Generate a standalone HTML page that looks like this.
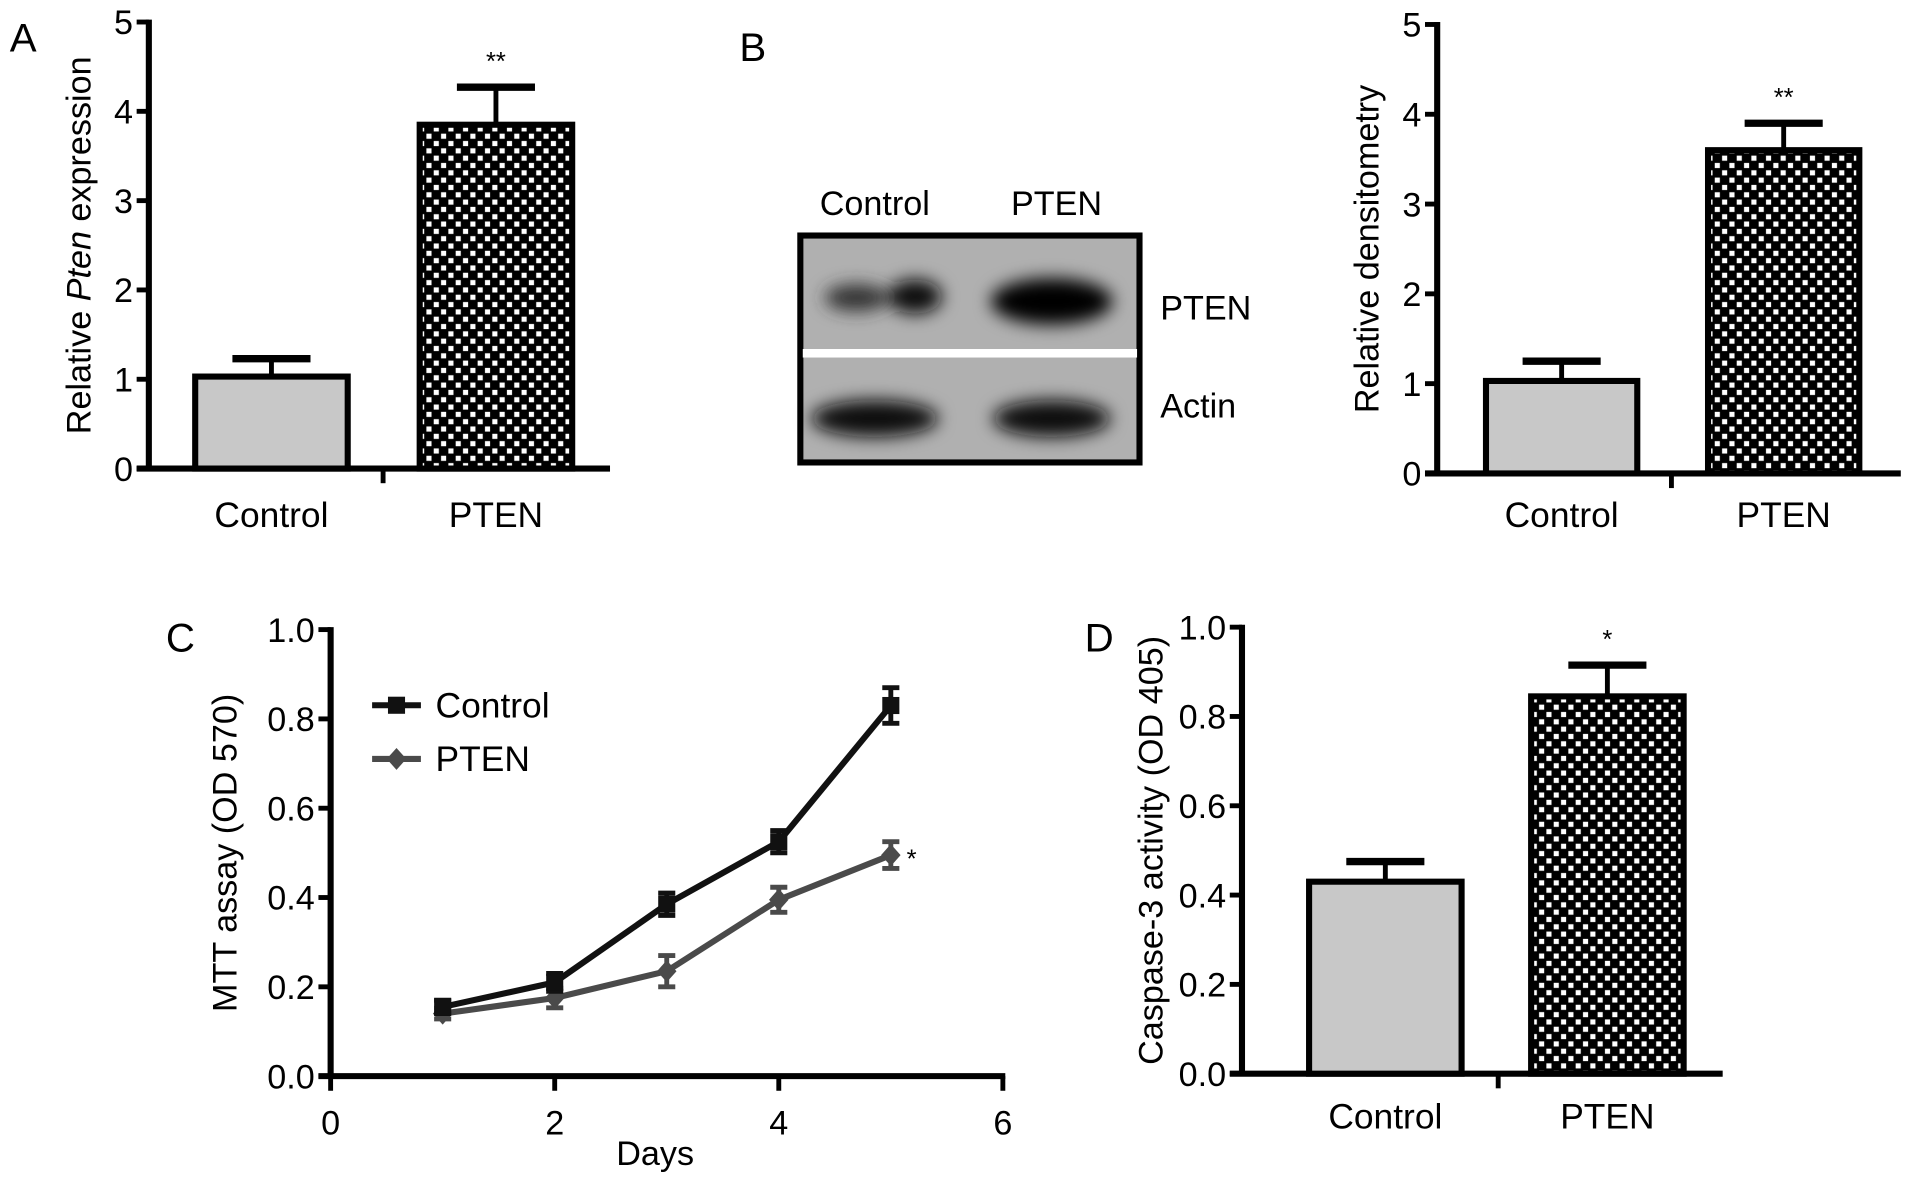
<!DOCTYPE html>
<html><head><meta charset="utf-8"><style>
html,body{margin:0;padding:0;background:#fff;}
svg{display:block;font-family:"Liberation Sans",Arial,sans-serif;}
</style></head><body>
<svg id="fig" width="1913" height="1186" viewBox="0 0 1568 972" xmlns="http://www.w3.org/2000/svg">
<defs>
<pattern id="chk" width="12" height="12" patternUnits="userSpaceOnUse">
<rect width="12" height="12" fill="#000"/>
<rect x="1.5" y="1.5" width="4.2" height="4.2" fill="#fff"/>
<rect x="7.5" y="7.5" width="4.2" height="4.2" fill="#fff"/>
</pattern>
<filter id="blur" x="-30%" y="-60%" width="160%" height="220%"><feGaussianBlur stdDeviation="7"/></filter>
</defs>
<g id="blot">
<rect x="656" y="193" width="278" height="186" fill="#b0b0b0" stroke="#000" stroke-width="5"/>
<g filter="url(#blur)">
<ellipse cx="702" cy="244" rx="26" ry="11" fill="#333"/>
<ellipse cx="750" cy="243" rx="22" ry="14" fill="#111"/>
<ellipse cx="862" cy="247" rx="50" ry="19" fill="#050505"/>
<ellipse cx="717" cy="343" rx="52" ry="15" fill="#111"/>
<ellipse cx="862" cy="343" rx="48" ry="15" fill="#111"/>
</g>
<rect x="658" y="286" width="274" height="7" fill="#fff"/>
<text x="717" y="176" font-size="28" text-anchor="middle">Control</text>
<text x="866" y="176" font-size="28" text-anchor="middle">PTEN</text>
<text x="951" y="262" font-size="28">PTEN</text>
<text x="951" y="342" font-size="28">Actin</text>
</g>
<text x="8" y="42" font-size="33">A</text>
<text x="606" y="50" font-size="33">B</text>
<text x="136" y="534" font-size="33">C</text>
<text x="889" y="534" font-size="33">D</text>
</svg>
<script>
const NS="http://www.w3.org/2000/svg";
const svg=document.getElementById('fig');
function mk(tag,attrs,parent){const e=document.createElementNS(NS,tag);for(const k in attrs)e.setAttribute(k,attrs[k]);(parent||svg).appendChild(e);return e;}

// Panel A data
const aCategories=["Control","PTEN"];
const aValues=[1.03,3.85];
const aErrors=[0.20,0.42];
const aTicks=["0","1","2","3","4","5"];
const aSig=["","**"];
// Panel B data
const bCategories=["Control","PTEN"];
const bValues=[1.03,3.60];
const bErrors=[0.22,0.30];
const bTicks=["0","1","2","3","4","5"];
const bSig=["","**"];
// Panel D data
const dCategories=["Control","PTEN"];
const dValues=[0.43,0.845];
const dErrors=[0.045,0.07];
const dTicks=["0.0","0.2","0.4","0.6","0.8","1.0"];
const dSig=["","*"];
// Panel C data
const cDays=[1,2,3,4,5];
const cControl=[0.155,0.21,0.385,0.525,0.83];
const cControlErr=[0.015,0.02,0.025,0.025,0.04];
const cPten=[0.14,0.175,0.235,0.395,0.495];
const cPtenErr=[0.012,0.022,0.035,0.028,0.03];
const cYTicks=["0.0","0.2","0.4","0.6","0.8","1.0"];
const cXTicks=["0","2","4","6"];

const TF=28, LF=29, TT=28;

function barChart(o){
  const g=mk('g',{});
  
  
  const ymax=parseFloat(o.ticks[o.ticks.length-1]);
  const y=v=>o.y0-(v/ymax)*(o.y0-o.yTop);
  mk('line',{x1:o.ax,y1:o.yTop-2,x2:o.ax,y2:o.y0+2,stroke:'#000','stroke-width':5},g);
  const xa=mk('line',{x1:o.ax-10,y1:o.y0,x2:o.xEnd,y2:o.y0,stroke:'#000','stroke-width':5},g);
  
  
  mk('line',{x1:o.midTick,y1:o.y0,x2:o.midTick,y2:o.y0+12,stroke:'#000','stroke-width':4},g);
  o.ticks.forEach(t=>{
    const v=parseFloat(t),yy=y(v);
    mk('line',{x1:o.ax-10,y1:yy,x2:o.ax,y2:yy,stroke:'#000','stroke-width':4},g);
    const tx=mk('text',{x:o.ax-13,y:yy+10,'font-size':TF,'text-anchor':'end'},g);
    tx.textContent=t;
    
    
  });
  o.cats.forEach((c,i)=>{
    const x0=o.barX[i],w=o.barW,top=y(o.vals[i]),cx=x0+w/2;
    const et=y(o.vals[i]+o.errs[i]);
    mk('line',{x1:cx,y1:top,x2:cx,y2:et,stroke:'#000','stroke-width':4},g);
    mk('line',{x1:cx-32,y1:et,x2:cx+32,y2:et,stroke:'#000','stroke-width':6},g);
    const r=mk('rect',{x:x0,y:top,width:w,height:o.y0-top,fill:i===0?'#c8c8c8':'url(#chk)',stroke:'#000','stroke-width':5},g);
    
    
    if(o.sig[i]){const s=mk('text',{x:cx,y:et-14,'font-size':21,'text-anchor':'middle'},g);s.textContent=o.sig[i];
      
      }
    const l=mk('text',{x:cx,y:o.y0+o.labDy,'font-size':LF,'text-anchor':'middle'},g);
    l.textContent=c;
    
    
  });
  const t=mk('text',{x:0,y:0,'font-size':TT,'text-anchor':'middle',transform:`translate(${o.titleX},${(o.yTop+o.y0)/2}) rotate(-90)`},g);
  t.innerHTML=o.title;
  
  
}
barChart({name:'chart-a',cats:aCategories,vals:aValues,errs:aErrors,ticks:aTicks,sig:aSig,ax:122,yTop:18,y0:384,xEnd:500,midTick:314,barX:[160,344],barW:125,titleX:74,labDy:48,title:'Relative <tspan font-style="italic">Pten</tspan> expression'});
barChart({name:'chart-b',cats:bCategories,vals:bValues,errs:bErrors,ticks:bTicks,sig:bSig,ax:1178,yTop:20,y0:388,xEnd:1558,midTick:1370,barX:[1218,1400],barW:124,titleX:1130,labDy:44,title:'Relative densitometry'});
barChart({name:'chart-d',cats:dCategories,vals:dValues,errs:dErrors,ticks:dTicks,sig:dSig,ax:1018,yTop:514,y0:880,xEnd:1412,midTick:1228,barX:[1073,1255],barW:125,titleX:953,labDy:45,title:'Caspase-3 activity (OD 405)'});

// Panel C line chart
(function(){
  const g=mk('g',{});
  
  
  const ax=271,y0=882,yTop=516,xR=822;
  const x=v=>ax+(v/6)*(xR-ax);
  const y=v=>y0-(v/1)*(y0-yTop);
  mk('line',{x1:ax,y1:yTop-2,x2:ax,y2:y0+2,stroke:'#000','stroke-width':5},g);
  mk('line',{x1:ax-10,y1:y0,x2:xR+2,y2:y0,stroke:'#000','stroke-width':5},g);
  cYTicks.forEach(t=>{const yy=y(parseFloat(t));
    mk('line',{x1:ax-10,y1:yy,x2:ax,y2:yy,stroke:'#000','stroke-width':4},g);
    const tx=mk('text',{x:ax-13,y:yy+10,'font-size':TF,'text-anchor':'end'},g);tx.textContent=t;
    
    });
  cXTicks.forEach(t=>{const xx=x(parseFloat(t));
    mk('line',{x1:xx,y1:y0,x2:xx,y2:y0+12,stroke:'#000','stroke-width':4},g);
    const tx=mk('text',{x:xx,y:y0+48,'font-size':TF,'text-anchor':'middle'},g);tx.textContent=t;
    
    });
  const xt=mk('text',{x:537,y:955,'font-size':TT,'text-anchor':'middle'},g);xt.textContent='Days';
  
  
  const yt=mk('text',{x:0,y:0,'font-size':TT,'text-anchor':'middle',transform:`translate(194,${(yTop+y0)/2}) rotate(-90)`},g);yt.textContent='MTT assay (OD 570)';
  
  
  function series(vals,errs,color,shape,nm){
    const sg=mk('g',{},g);
    
    
    mk('polyline',{points:cDays.map((d,i)=>x(d)+','+y(vals[i])).join(' '),fill:'none',stroke:color,'stroke-width':5},sg);
    cDays.forEach((d,i)=>{const cx=x(d),cy=y(vals[i]),t=y(vals[i]+errs[i]),b=y(vals[i]-errs[i]);
      mk('line',{x1:cx,y1:t,x2:cx,y2:b,stroke:color,'stroke-width':4},sg);
      mk('line',{x1:cx-7,y1:t,x2:cx+7,y2:t,stroke:color,'stroke-width':4},sg);
      mk('line',{x1:cx-7,y1:b,x2:cx+7,y2:b,stroke:color,'stroke-width':4},sg);
      if(shape==='sq')mk('rect',{x:cx-7,y:cy-7,width:14,height:14,fill:color},sg);
      else mk('polygon',{points:`${cx},${cy-9} ${cx+8},${cy} ${cx},${cy+9} ${cx-8},${cy}`,fill:color},sg);
    });
  }
  series(cPten,cPtenErr,'#4a4a4a','dia','series-pten');
  series(cControl,cControlErr,'#111','sq','series-control');
  const st=mk('text',{x:x(5)+13,y:y(cPten[4])+10,'font-size':21},g);st.textContent='*';
  
  
  const lg=mk('g',{},g);
  
  
  mk('line',{x1:305,y1:578,x2:345,y2:578,stroke:'#111','stroke-width':5},lg);
  mk('rect',{x:318,y:571,width:14,height:14,fill:'#111'},lg);
  const l1=mk('text',{x:357,y:588,'font-size':LF},lg);l1.textContent='Control';
  
  
  mk('line',{x1:305,y1:622,x2:345,y2:622,stroke:'#4a4a4a','stroke-width':5},lg);
  mk('polygon',{points:'325,613 333,622 325,631 317,622',fill:'#4a4a4a'},lg);
  const l2=mk('text',{x:357,y:632,'font-size':LF},lg);l2.textContent='PTEN';
  
  
})();
</script>
</body></html>
